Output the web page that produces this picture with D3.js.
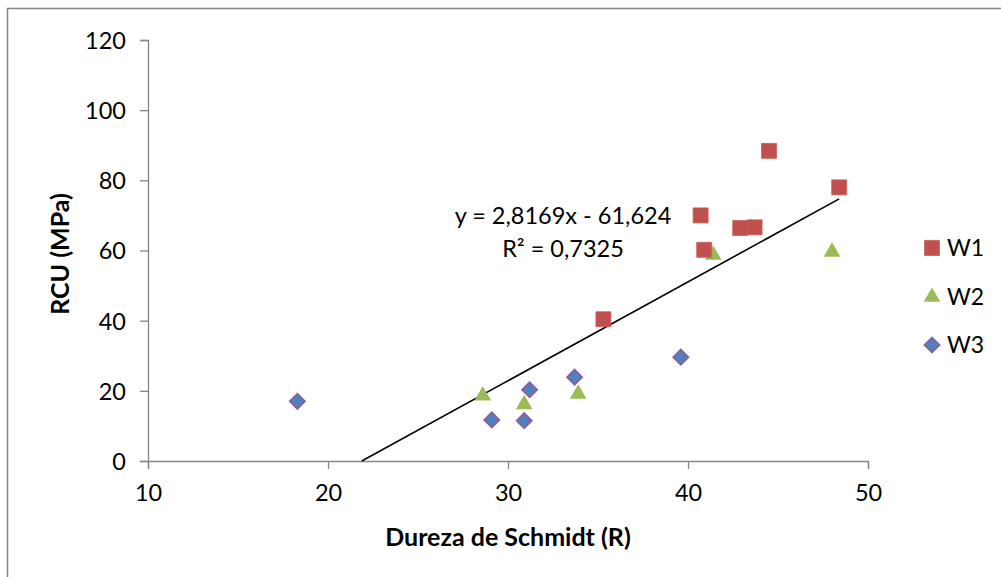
<!DOCTYPE html>
<html>
<head>
<meta charset="utf-8">
<script src="https://cdn.jsdelivr.net/npm/d3@7/dist/d3.min.js"></script>
<style>
  html, body { margin: 0; padding: 0; background: #fff; }
  svg { display: block; }
  text { font-family: Lato, "Open Sans", sans-serif; fill: #000; }
</style>
</head>
<body>
<svg id="chart" width="1001" height="577"></svg>
<script>
// Schmidt hardness (R) vs. uniaxial compressive strength (MPa), three groups
const w1X = [35.3, 40.7, 40.9, 42.9, 43.7, 44.5, 48.4];
const w1Y = [40.4, 70.0, 60.2, 66.4, 66.6, 88.4, 78.0];
const w2X = [28.6, 30.9, 33.9, 41.4, 48.0];
const w2Y = [18.9, 16.4, 19.4, 59.0, 59.9];
const w3X = [18.3, 29.1, 30.9, 31.2, 33.7, 39.6];
const w3Y = [17.0, 11.7, 11.5, 20.3, 23.9, 29.6];
const seriesNames = ["W1", "W2", "W3"];
const xTicks = [10, 20, 30, 40, 50];
const yTicks = [0, 20, 40, 60, 80, 100, 120];
const slope = 2.8169, intercept = -61.624;
const equationText = "y = 2,8169x - 61,624";
const r2Text = "R\u00b2 = 0,7325";

const svg = d3.select("#chart");

// outer chart frame
svg.append("rect")
  .attr("x", 7.5).attr("y", 8.5).attr("width", 1020).attr("height", 600)
  .attr("fill", "none").attr("stroke", "#868686").attr("stroke-width", 1.5);

const x = d3.scaleLinear().domain([10, 50]).range([148, 868]);
const y = d3.scaleLinear().domain([0, 120]).range([461, 40]);

const axisColor = "#868686";

// y axis
const yAxis = svg.append("g").attr("transform", `translate(${x(10)},0)`)
  .call(d3.axisLeft(y).tickValues(yTicks).tickSize(8).tickPadding(14));
// x axis
const xAxis = svg.append("g").attr("transform", `translate(0,${y(0)})`)
  .call(d3.axisBottom(x).tickValues(xTicks).tickSize(8).tickPadding(10));

[yAxis, xAxis].forEach(g => {
  g.select(".domain").attr("stroke", axisColor).attr("stroke-width", 1.3);
  g.selectAll(".tick line").attr("stroke", axisColor).attr("stroke-width", 1.3);
  g.selectAll(".tick text").style("font-family", "Lato, sans-serif")
    .style("font-size", "23.5px").attr("fill", "#000");
});
yAxis.selectAll(".tick text").attr("dy", "0.36em");
xAxis.selectAll(".tick text").attr("dy", "0.95em");

// trendline over the data range, clipped at y = 0
const allX = w1X.concat(w2X, w3X);
const xMax = d3.max(allX);
const xStart = Math.max(d3.min(allX), -intercept / slope);
svg.append("line")
  .attr("x1", x(xStart)).attr("y1", y(slope * xStart + intercept))
  .attr("x2", x(xMax)).attr("y2", y(slope * xMax + intercept))
  .attr("stroke", "#000").attr("stroke-width", 1.6);

// markers
const sq = d3.symbol().type(d3.symbolSquare).size(225);
const tri = d3.symbol().type(d3.symbolTriangle).size(120);
const dia = d3.symbol().type(d3.symbolSquare).size(110);

function drawSeries(xs, ys, draw) {
  xs.forEach((v, i) => draw(svg.append("path"), x(v), y(ys[i])));
}
const drawW1 = (p, cx, cy) => p.attr("d", sq).attr("transform", `translate(${cx},${cy})`)
  .attr("fill", "#C0504D").attr("stroke", "#C8605D").attr("stroke-width", 0.8);
const drawW2 = (p, cx, cy) => p.attr("d", tri).attr("transform", `translate(${cx},${cy + 1})`)
  .attr("fill", "#9BBB59");
const drawW3 = (p, cx, cy) => p.attr("d", dia).attr("transform", `translate(${cx},${cy}) rotate(45)`)
  .attr("fill", "#4F81BD").attr("stroke", "#8064A2").attr("stroke-width", 2);

drawSeries(w2X, w2Y, drawW2);
drawSeries(w1X, w1Y, drawW1);
drawSeries(w3X, w3Y, drawW3);

// regression label
svg.append("text").attr("x", 563).attr("y", 224).attr("text-anchor", "middle")
  .style("font-size", "23.5px").text(equationText);
svg.append("text").attr("x", 563).attr("y", 257).attr("text-anchor", "middle")
  .style("font-size", "23.5px").text(r2Text);

// axis titles
svg.append("text").attr("transform", "translate(69,254) rotate(-90)")
  .attr("text-anchor", "middle").style("font-size", "25px").style("font-weight", "bold")
  .text("RCU (MPa)");
svg.append("text").attr("x", 508).attr("y", 546).attr("text-anchor", "middle")
  .style("font-size", "25px").style("font-weight", "bold")
  .text("Dureza de Schmidt (R)");

// legend
const legendY = [248, 297, 345];
const legendDraw = [drawW1, drawW2, drawW3];
seriesNames.forEach((name, i) => {
  legendDraw[i](svg.append("path"), 932, legendY[i] - (i === 1 ? 1 : 0));
  svg.append("text").attr("x", 947).attr("y", legendY[i]).attr("dy", "0.36em")
    .style("font-size", "23px").text(name);
});
</script>
</body>
</html>
